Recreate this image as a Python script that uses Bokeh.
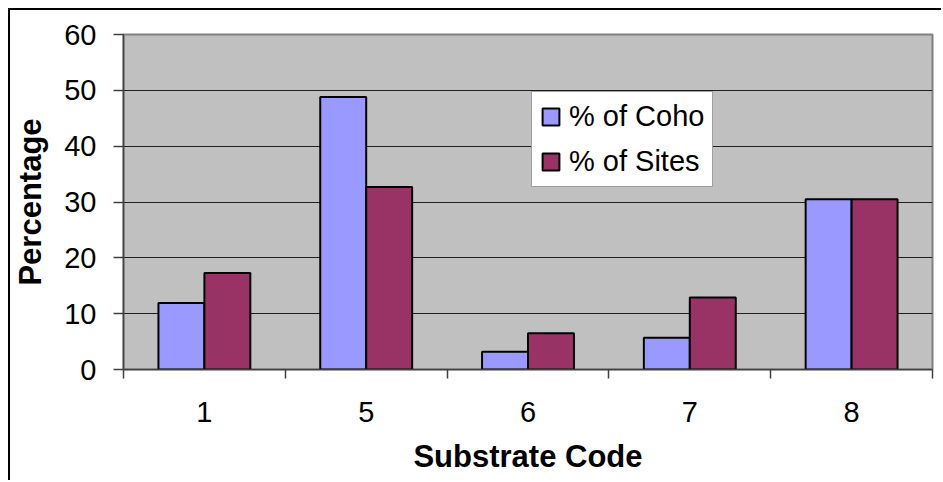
from bokeh.plotting import figure
from bokeh.models import ColumnDataSource, FixedTicker, Range1d, Legend, LegendItem
from bokeh.embed import file_html
from bokeh.resources import INLINE

categories = ["1", "5", "6", "7", "8"]
coho = [11.9, 48.8, 3.2, 5.7, 30.5]
sites = [17.3, 32.7, 6.5, 12.9, 30.5]
y_ticks = [0, 10, 20, 30, 40, 50, 60]

BAR_W = 0.284
centers = [i + 0.5 for i in range(len(categories))]
src_coho = ColumnDataSource(dict(x=[c - BAR_W / 2 for c in centers], top=coho))
src_sites = ColumnDataSource(dict(x=[c + BAR_W / 2 for c in centers], top=sites))

FONT = "Liberation Sans"

p = figure(width=933, height=472, output_backend="svg", toolbar_location=None,
           x_range=Range1d(0, len(categories)), y_range=Range1d(0, 60),
           min_border_left=113, min_border_top=24, min_border_right=11, min_border_bottom=113)
p.styles = {"margin-left": "8px", "margin-top": "8px",
            "border-left": "2px solid black", "border-top": "2px solid black"}

p.background_fill_color = "#C0C0C0"
p.border_fill_color = "white"
p.outline_line_color = "#808080"
p.outline_line_width = 2

r1 = p.vbar(x="x", top="top", width=BAR_W, source=src_coho, fill_color="#9999FF",
            line_color="black", line_width=2)
r2 = p.vbar(x="x", top="top", width=BAR_W, source=src_sites, fill_color="#993366",
            line_color="black", line_width=2)

# x axis: labels at category centres, tick marks at category boundaries
xa = p.xaxis[0]
xa.ticker = FixedTicker(ticks=centers, minor_ticks=list(range(len(categories) + 1)))
xa.major_label_overrides = {c: lab for c, lab in zip(centers, categories)}
xa.major_tick_out = 0
xa.major_tick_in = 0
xa.minor_tick_out = 9
xa.minor_tick_in = 0
xa.minor_tick_line_color = "#404040"
xa.minor_tick_line_width = 1.5
xa.axis_line_color = "#404040"
xa.axis_line_width = 1.5
xa.major_label_text_font = FONT
xa.major_label_text_font_size = "29px"
xa.major_label_text_color = "black"
xa.major_label_standoff = 23
xa.axis_label = "Substrate Code"
xa.axis_label_text_font = FONT
xa.axis_label_text_font_style = "bold"
xa.axis_label_text_font_size = "31px"
xa.axis_label_text_color = "black"
xa.axis_label_standoff = 14

ya = p.yaxis[0]
ya.ticker = FixedTicker(ticks=y_ticks, minor_ticks=[])
ya.major_tick_out = 10
ya.major_tick_in = 0
ya.major_tick_line_color = "#404040"
ya.major_tick_line_width = 1.5
ya.axis_line_color = "#404040"
ya.axis_line_width = 1.5
ya.major_label_text_font = FONT
ya.major_label_text_font_size = "29px"
ya.major_label_text_color = "black"
ya.major_label_standoff = 17
ya.axis_label = "Percentage"
ya.axis_label_text_font = FONT
ya.axis_label_text_font_style = "bold"
ya.axis_label_text_font_size = "31px"
ya.axis_label_text_color = "black"
ya.axis_label_standoff = 13

p.xgrid.grid_line_color = None
p.ygrid.ticker = FixedTicker(ticks=y_ticks)
p.ygrid.grid_line_color = "#202020"
p.ygrid.grid_line_width = 1

legend = Legend(items=[LegendItem(label="% of Coho", renderers=[r1]),
                       LegendItem(label="% of Sites", renderers=[r2])],
                location=(408, 182))
legend.label_text_font = FONT
legend.label_text_font_size = "29px"
legend.label_text_color = "black"
legend.glyph_width = 21
legend.glyph_height = 21
legend.label_standoff = 8
legend.label_width = 132
legend.spacing = 12
legend.padding = 8
legend.margin = 0
legend.border_line_color = "#404040"
legend.border_line_width = 1
legend.background_fill_color = "white"
legend.background_fill_alpha = 1
p.add_layout(legend, "center")

open("out.html", "w").write(file_html(p, INLINE))
